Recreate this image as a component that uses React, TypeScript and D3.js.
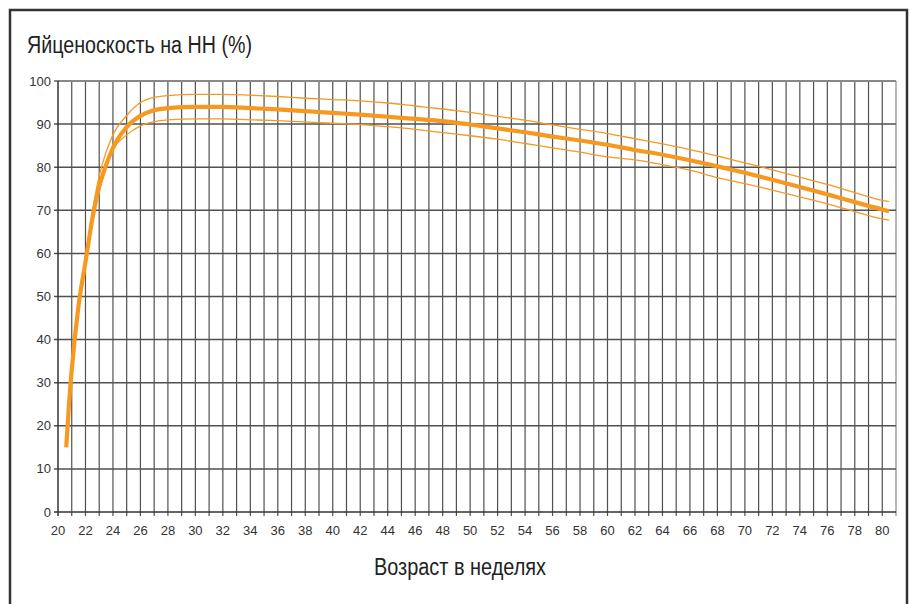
import React from 'react';
import * as d3 from 'd3';

// weeks of age and laying rate (%)
const mainWeeks = [20.6, 20.8, 21, 21.5, 22, 22.5, 23, 23.5, 24, 25, 26, 27, 28, 30, 32, 34, 36, 38, 40, 42, 44, 46, 48, 50, 52, 54, 56, 58, 60, 62, 64, 66, 68, 70, 72, 74, 76, 78, 80, 80.5];
const mainValues = [15, 25, 33, 48, 58, 68, 75.5, 80.5, 84.5, 89.3, 91.9, 93.2, 93.7, 94.0, 94.0, 93.7, 93.4, 93.0, 92.6, 92.2, 91.7, 91.2, 90.7, 89.9, 89.0, 88.1, 87.1, 86.2, 85.2, 84.0, 82.9, 81.6, 80.2, 78.7, 77.1, 75.4, 73.7, 71.9, 70.2, 69.8];

const bandWeeks = [22.3, 23, 23.5, 24, 25, 26, 27, 28, 30, 32, 34, 36, 38, 40, 42, 44, 46, 48, 50, 52, 54, 56, 58, 60, 62, 64, 66, 68, 70, 72, 74, 76, 78, 80, 80.5];
const upperValues = [66, 78, 83.5, 87.5, 92, 95, 96.2, 96.6, 96.9, 96.9, 96.7, 96.4, 96.0, 95.7, 95.4, 94.9, 94.2, 93.5, 92.7, 91.8, 90.9, 89.8, 88.8, 87.8, 86.6, 85.4, 84.1, 82.6, 81.0, 79.4, 77.7, 76.0, 74.1, 72.3, 72.0];
const lowerValues = [64, 74.5, 80, 84, 87.5, 89.6, 90.6, 91.0, 91.2, 91.2, 91.0, 90.8, 90.5, 90.2, 89.9, 89.4, 88.8, 88.0, 87.3, 86.5, 85.5, 84.5, 83.5, 82.4, 81.7, 80.6, 79.3, 77.6, 76.2, 74.7, 73.1, 71.5, 69.7, 68.0, 67.7];

const yTicks = [0, 10, 20, 30, 40, 50, 60, 70, 80, 90, 100];
const weekGrid = d3.range(20, 82);
const weekLabels = d3.range(20, 81, 2);

const title = 'Яйценоскость на НН (%)';
const xTitle = 'Возраст в неделях';

const W = 909;
const H = 604;
const orange = '#f7981f';
const gridColor = '#505050';
const textFont = '"Liberation Sans", Arial, sans-serif';

export default function App() {
  const x = d3.scaleLinear().domain([20, 81]).range([58, 896]);
  const y = d3.scaleLinear().domain([0, 100]).range([512, 81]);

  const line = d3.line<[number, number]>()
    .x(d => x(d[0]))
    .y(d => y(d[1]))
    .curve(d3.curveMonotoneX);

  const mainPts = mainWeeks.map((w, i) => [w, mainValues[i]] as [number, number]);
  const upperPts = bandWeeks.map((w, i) => [w, upperValues[i]] as [number, number]);
  const lowerPts = bandWeeks.map((w, i) => [w, lowerValues[i]] as [number, number]);

  return (
    <svg width={W} height={H} style={{ position: 'absolute', left: 0, top: 0, background: '#fff' }}>
      <rect x={0} y={0} width={W} height={H} fill="#fff" />
      {/* frame */}
      <rect x={10} y={10} width={897} height={620} fill="none" stroke="#333" strokeWidth={2.5} />

      <text x={27} y={53} fontFamily={textFont} fontSize={23} fill="#222"
        textLength={225} lengthAdjust="spacingAndGlyphs">{title}</text>

      {/* grid */}
      <g>
        {weekGrid.slice(1).map(w => (
          <line key={'v' + w} x1={x(w)} x2={x(w)} y1={y(100)} y2={y(0) + 4}
            stroke={w === 81 ? '#888' : gridColor} strokeWidth={1.2} />
        ))}
        {yTicks.slice(1).map(v => (
          <line key={'h' + v} x1={x(20) - 4} x2={x(81)} y1={y(v)} y2={y(v)}
            stroke={v === 100 ? '#888' : gridColor} strokeWidth={v === 100 ? 2 : 1.5} />
        ))}
        <line x1={x(20)} x2={x(20)} y1={y(100)} y2={y(0) + 4} stroke="#333" strokeWidth={1.5} />
        <line x1={x(20) - 4} x2={x(81)} y1={y(0)} y2={y(0)} stroke="#333" strokeWidth={1.5} />
      </g>

      {/* labels */}
      <g fontFamily={textFont} fontSize={13} fill="#333">
        {yTicks.map(v => (
          <text key={'yl' + v} x={51} y={y(v)} dy="0.35em" textAnchor="end">{v}</text>
        ))}
        {weekLabels.map(w => (
          <text key={'xl' + w} x={x(w)} y={535} textAnchor="middle">{w}</text>
        ))}
      </g>

      {/* curves */}
      <path d={line(upperPts) || ''} fill="none" stroke={orange} strokeWidth={1.3} />
      <path d={line(lowerPts) || ''} fill="none" stroke={orange} strokeWidth={1.3} />
      <path d={line(mainPts) || ''} fill="none" stroke={orange} strokeWidth={4.2} />

      <text x={460} y={575} textAnchor="middle" fontFamily={textFont} fontSize={23} fill="#222"
        textLength={172} lengthAdjust="spacingAndGlyphs">{xTitle}</text>
    </svg>
  );
}
